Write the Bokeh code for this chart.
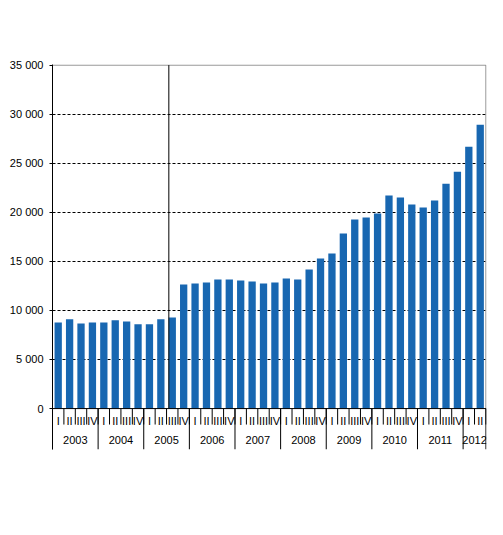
from bokeh.plotting import figure
from bokeh.models import Range1d, FixedTicker, ColumnDataSource
from bokeh.core.properties import value
from bokeh.embed import file_html
from bokeh.resources import INLINE

# data
years = ["2003", "2004", "2005", "2006", "2007", "2008", "2009", "2010", "2011", "2012"]
quarters_per_year = [4, 4, 4, 4, 4, 4, 4, 4, 4, 2]
quarter_names = ["I", "II", "III", "IV"]
values = [8780, 9090, 8680, 8780,
          8780, 8990, 8880, 8580,
          8580, 9090, 9290, 12650,
          12750, 12850, 13160, 13160,
          13060, 12950, 12750, 12850,
          13260, 13160, 14170, 15290,
          15800, 17840, 19260, 19460,
          19870, 21700, 21500, 20790,
          20480, 21190, 22920, 24140,
          26690, 28930]
y_ticks = [0, 5000, 10000, 15000, 20000, 25000, 30000, 35000]
y_labels = ["0", "5 000", "10 000", "15 000", "20 000", "25 000", "30 000", "35 000"]
series_break = 10  # first bar after the break line

FONT = value("Liberation Sans")
BLUE = "#1867b1"

n = len(values)
x = list(range(n))
q_labels = []
for cnt in quarters_per_year:
    q_labels += quarter_names[:cnt]

# px per unit: 344 px for 35000
ymax = 35000
unit = ymax / 344.0
ymin = -41 * unit

p = figure(width=495, height=510, output_backend="svg", toolbar_location=None,
           x_range=Range1d(-0.5, n - 0.45), y_range=Range1d(ymin, ymax + 0.6 * unit),
           x_axis_location=None, min_border_left=52, min_border_right=9,
           min_border_top=64, min_border_bottom=61)
p.outline_line_color = None
p.background_fill_color = "white"
p.border_fill_color = "white"

p.xgrid.visible = False
p.ygrid.ticker = FixedTicker(ticks=y_ticks[1:-1])
p.ygrid.grid_line_color = "black"
p.ygrid.grid_line_dash = "3 2"
p.ygrid.grid_line_width = 1

p.yaxis.ticker = FixedTicker(ticks=y_ticks)
p.yaxis.major_label_overrides = {t: l for t, l in zip(y_ticks, y_labels)}
p.yaxis.minor_tick_line_color = None
p.yaxis.major_tick_out = 3
p.yaxis.major_tick_in = 0
p.yaxis.major_label_standoff = 6
p.yaxis.major_label_text_font = "Liberation Sans"
p.yaxis.major_label_text_font_size = "11px"
p.yaxis.major_label_text_color = "black"
p.yaxis.axis_line_color = "black"

source = ColumnDataSource(data=dict(x=x, top=values))
p.vbar(x="x", top="top", bottom=0, width=0.64, source=source, fill_color=BLUE, line_color=None)

# frame: grey top and right edges
p.segment(x0=[-0.5, n - 0.5], y0=[ymax, 0], x1=[n - 0.5, n - 0.5], y1=[ymax, ymax],
          line_color="#808080", line_width=1)
# series break
p.segment(x0=[series_break - 0.3], y0=[0], x1=[series_break - 0.3], y1=[ymax],
          line_color="black", line_width=1)
# category axis line
p.segment(x0=[-0.5], y0=[0], x1=[n - 0.5], y1=[0], line_color="black", line_width=1)

# quarter ticks and labels
qt = [i - 0.5 for i in range(n + 1)]
p.segment(x0=qt, y0=[0] * len(qt), x1=qt, y1=[-16 * unit] * len(qt),
          line_color="black", line_width=1)
p.text(x=x, y=[-12 * unit] * n, text=q_labels, text_align="center", text_baseline="middle",
       text_font=FONT, text_font_size="11px", text_color="black")

# year separators and labels
yt = [-0.5]
yc = []
pos = 0
for cnt in quarters_per_year:
    yc.append(pos + cnt / 2.0 - 0.5)
    pos += cnt
    yt.append(pos - 0.5)
p.segment(x0=yt, y0=[0] * len(yt), x1=yt, y1=[ymin] * len(yt),
          line_color="black", line_width=1)
p.text(x=yc, y=[-31 * unit] * len(yc), text=years, text_align="center", text_baseline="middle",
       text_font=FONT, text_font_size="11px", text_color="black")

open("out.html", "w").write(file_html(p, INLINE))
